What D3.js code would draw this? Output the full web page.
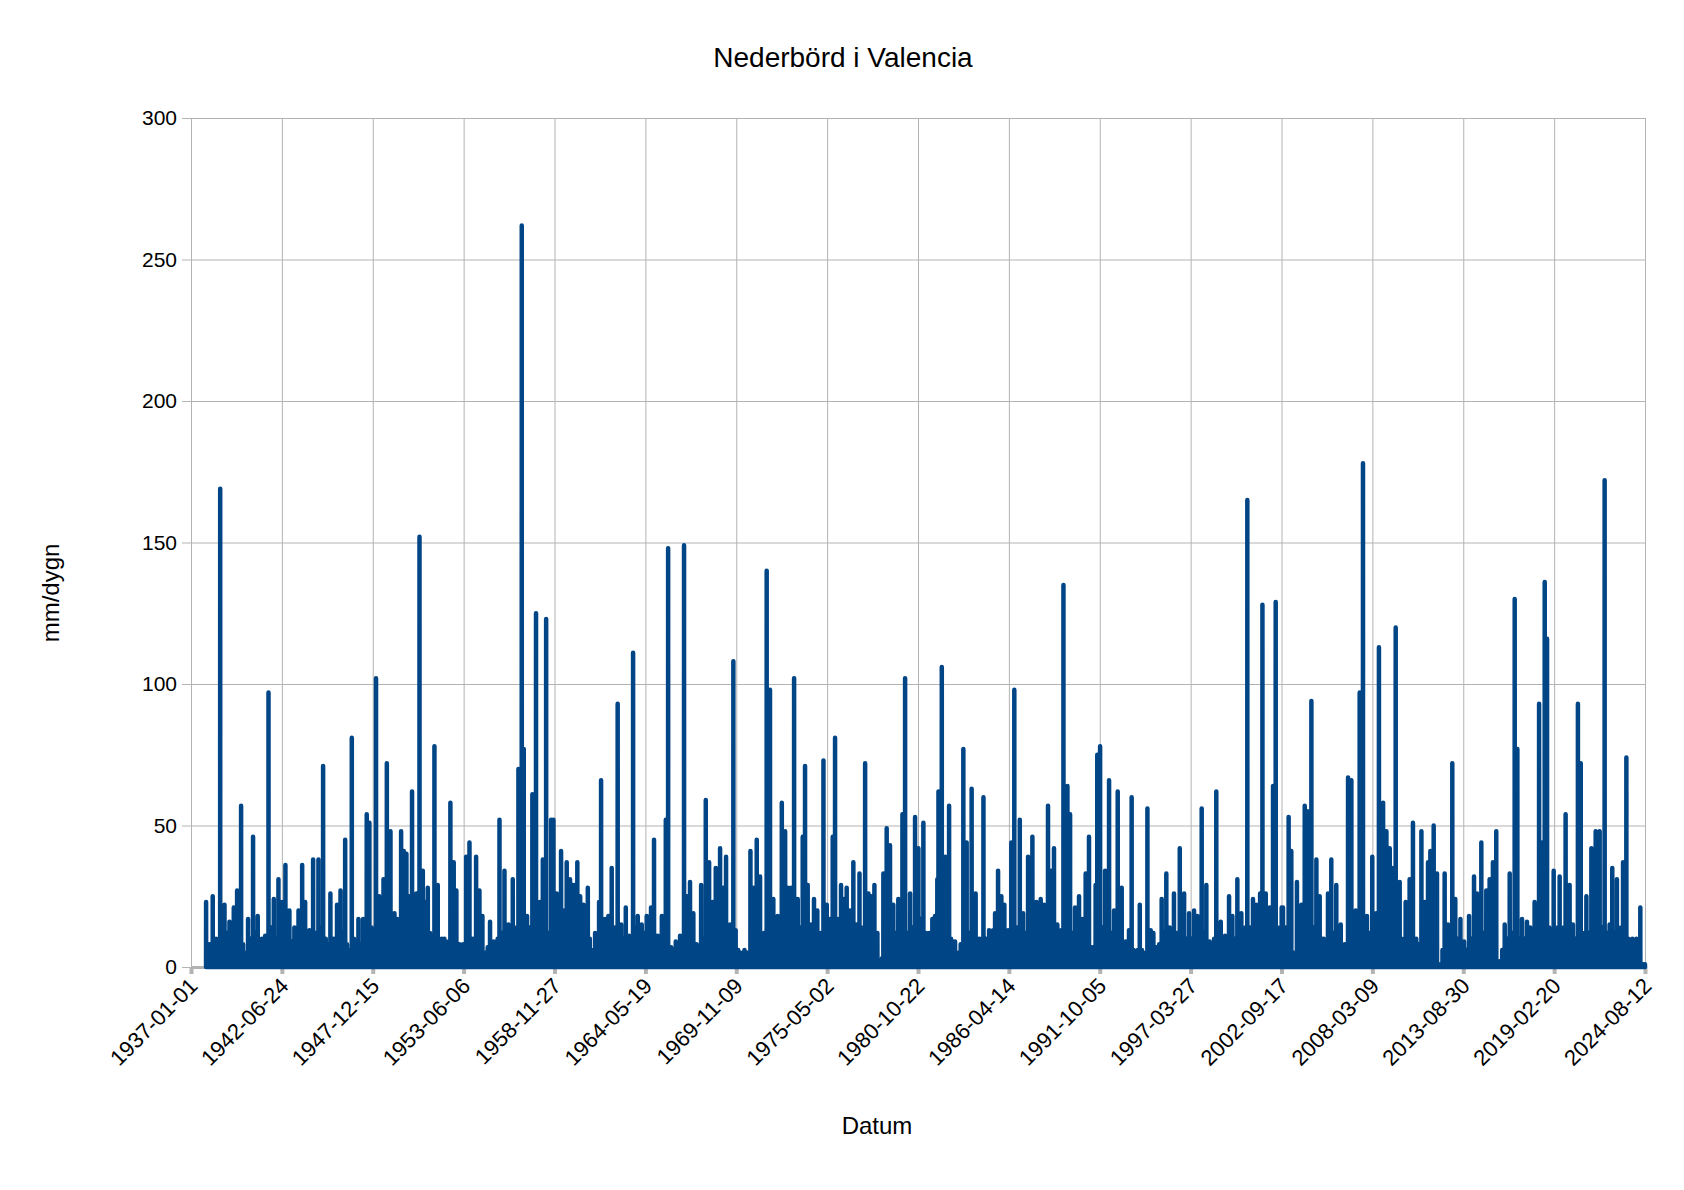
<!DOCTYPE html>
<html>
<head>
<meta charset="utf-8">
<script src="https://cdnjs.cloudflare.com/ajax/libs/d3/7.8.5/d3.min.js"></script>
<style>
  html, body { margin: 0; padding: 0; background: #ffffff; }
  svg { display: block; font-family: "Liberation Sans", Arial, sans-serif; }
</style>
</head>
<body>
<svg id="chart" width="1684" height="1190"></svg>
<script>
// ---- Data: daily precipitation events [decimal year, mm/dygn] ----
const rain1937to1958 = [
  [1937.91,23],[1938.31,25],[1938.51,10],[1938.76,169],[1939.02,22],[1939.18,12],[1939.32,16],[1939.58,21],
  [1939.78,27],[1940.02,57],[1940.26,5],[1940.44,17],[1940.74,46],[1941.02,18],[1941.27,10],[1941.47,11],
  [1941.67,97],[1941.99,24],[1942.27,31],[1942.49,23],[1942.69,36],[1942.93,20],[1943.23,14],[1943.48,20],
  [1943.70,36],[1943.88,23],[1944.14,13],[1944.36,38],[1944.68,38],[1944.96,71],[1945.12,10],[1945.40,26],
  [1945.60,10],[1945.80,22],[1946.01,27],[1946.29,45],[1946.51,6],[1946.69,81],[1947.09,17],[1947.37,17],
  [1947.59,54],[1947.75,51],[1948.15,102],[1948.34,25],[1948.60,31],[1948.80,72],[1949.02,48],[1949.26,19],
  [1949.42,17],[1949.66,48],[1949.82,41],[1949.98,40],[1950.16,25],[1950.32,62],[1950.58,26],[1950.77,152],
  [1950.97,34],[1951.11,23],[1951.27,28],[1951.67,78],[1951.87,29],[1952.11,10],[1952.27,10],[1952.63,58],
  [1952.83,37],[1952.99,27],[1953.18,8],[1953.40,8],[1953.58,39],[1953.78,44],[1953.98,10],[1954.18,39],
  [1954.38,27],[1954.56,18],[1954.74,5],[1955.02,16],[1955.24,9],[1955.59,52],[1955.89,34],[1956.13,15],
  [1956.39,31],[1956.73,70],[1956.93,262],[1957.05,77],[1957.25,18],[1957.57,61],[1957.79,125],[1958.02,23],
  [1958.20,38],[1958.40,123],[1958.70,52],[1958.84,52]
];
const rain1959to1980 = [
  [1959.04,26],[1959.30,41],[1959.48,20],[1959.64,37],[1959.84,31],[1959.98,29],[1960.10,29],[1960.28,37],
  [1960.45,25],[1960.65,22],[1960.91,28],[1961.15,6],[1961.35,12],[1961.59,23],[1961.71,66],[1961.95,17],
  [1962.15,18],[1962.35,35],[1962.51,14],[1962.71,93],[1962.92,15],[1963.20,21],[1963.40,11],[1963.64,111],
  [1963.92,18],[1964.16,15],[1964.46,18],[1964.72,21],[1964.90,45],[1965.12,11],[1965.37,18],[1965.61,52],
  [1965.75,148],[1965.93,7],[1966.21,9],[1966.47,11],[1966.71,149],[1966.87,25],[1967.07,30],[1967.27,19],
  [1967.47,8],[1967.74,29],[1968.02,59],[1968.22,37],[1968.42,23],[1968.62,35],[1968.88,42],[1969.08,28],
  [1969.24,39],[1969.48,15],[1969.68,108],[1969.82,13],[1970.13,5],[1970.35,6],[1970.49,5],[1970.71,41],
  [1970.91,28],[1971.09,45],[1971.29,32],[1971.53,12],[1971.69,140],[1971.89,98],[1972.09,24],[1972.35,18],
  [1972.60,58],[1972.80,48],[1972.96,28],[1973.16,28],[1973.34,102],[1973.56,24],[1973.70,14],[1973.86,46],
  [1974.00,71],[1974.16,29],[1974.36,15],[1974.54,24],[1974.74,20],[1974.93,12],[1975.11,73],[1975.31,22],
  [1975.51,17],[1975.67,46],[1975.81,81],[1976.01,17],[1976.17,29],[1976.35,24],[1976.51,28],[1976.71,20],
  [1976.91,37],[1977.11,15],[1977.28,33],[1977.62,72],[1977.82,26],[1977.98,25],[1978.18,29],[1978.36,12],
  [1978.52,2],[1978.72,33],[1978.92,49],[1979.12,43],[1979.32,22],[1979.62,24],[1979.87,54],[1980.03,102],
  [1980.33,26],[1980.63,53],[1980.83,42]
];
const rain1981to2002 = [
  [1980.97,17],[1981.13,51],[1981.47,12],[1981.67,17],[1981.83,18],[1981.97,31],[1982.04,62],[1982.24,106],
  [1982.44,39],[1982.68,57],[1982.92,9],[1983.04,9],[1983.22,5],[1983.38,8],[1983.54,77],[1983.74,44],
  [1984.04,63],[1984.28,26],[1984.53,10],[1984.75,60],[1984.89,10],[1985.09,13],[1985.33,13],[1985.45,19],
  [1985.63,34],[1985.83,25],[1986.01,22],[1986.23,13],[1986.43,44],[1986.61,98],[1986.94,52],[1987.14,19],
  [1987.44,39],[1987.70,46],[1987.94,23],[1988.20,24],[1988.40,22],[1988.64,57],[1988.80,34],[1989.00,42],
  [1989.20,15],[1989.43,13],[1989.57,135],[1989.81,64],[1989.97,54],[1990.27,21],[1990.51,25],[1990.71,17],
  [1990.91,33],[1991.11,46],[1991.31,7],[1991.51,29],[1991.61,75],[1991.78,78],[1992.08,34],[1992.32,66],
  [1992.62,20],[1992.84,62],[1993.08,28],[1993.32,9],[1993.52,13],[1993.68,60],[1993.92,5],[1994.17,22],
  [1994.43,5],[1994.63,56],[1994.83,13],[1994.99,12],[1995.19,7],[1995.49,24],[1995.77,33],[1995.97,14],
  [1996.23,26],[1996.58,42],[1996.84,26],[1997.14,19],[1997.44,20],[1997.64,18],[1997.90,56],[1998.18,29],
  [1998.38,9],[1998.78,62],[1999.05,16],[1999.31,11],[1999.55,25],[1999.75,18],[2000.05,31],[2000.29,19],
  [2000.65,165],[2000.99,24],[2001.19,22],[2001.42,26],[2001.56,128],[2001.76,26],[2002.00,21],[2002.20,64],
  [2002.36,129],[2002.72,21]
];
const rain2003to2024 = [
  [2002.80,21],[2003.14,53],[2003.30,41],[2003.44,5],[2003.64,30],[2003.91,22],[2004.11,57],[2004.27,55],
  [2004.51,94],[2004.81,38],[2005.01,25],[2005.25,10],[2005.51,26],[2005.71,38],[2006.01,29],[2006.28,15],
  [2006.52,8],[2006.72,67],[2006.92,66],[2007.18,20],[2007.42,97],[2007.62,178],[2007.86,18],[2008.18,39],
  [2008.42,19],[2008.58,113],[2008.83,58],[2009.03,48],[2009.23,42],[2009.37,35],[2009.59,120],[2009.83,30],
  [2010.19,23],[2010.43,31],[2010.63,51],[2010.83,10],[2011.14,48],[2011.34,23],[2011.54,37],[2011.68,41],
  [2011.88,50],[2012.08,33],[2012.28,1],[2012.54,33],[2012.74,15],[2013.00,72],[2013.18,24],[2013.49,17],
  [2013.71,9],[2014.01,18],[2014.31,32],[2014.49,26],[2014.75,44],[2015.05,27],[2015.25,31],[2015.45,37],
  [2015.65,48],[2015.86,2],[2016.16,15],[2016.46,33],[2016.76,130],[2016.92,77],[2017.20,17],[2017.50,16],
  [2017.70,14],[2017.96,23],[2018.23,93],[2018.41,44],[2018.57,136],[2018.71,116],[2019.11,34],[2019.47,32],
  [2019.83,54],[2020.07,29],[2020.27,15],[2020.57,93],[2020.74,72],[2021.08,25],[2021.38,42],[2021.64,48],
  [2021.88,48],[2022.18,172],[2022.48,15],[2022.64,35],[2022.92,31],[2023.29,37],[2023.49,74],[2023.85,10],
  [2024.09,10],[2024.33,21],[2024.49,1],[2024.61,1]
];
// light rain days seen as the dense low band under the spikes
const lightRain1937to1958 = [
  [1938.11,8],[1938.89,12],[1939.45,9],[1940.14,8],[1940.59,10],[1940.88,12],[1941.15,7],[1941.83,14],
  [1942.13,10],[1942.38,12],[1942.81,10],[1943.08,9],[1943.35,8],[1943.59,10],[1944.01,8],[1944.25,9],
  [1944.52,12],[1944.82,14],[1945.26,8],[1946.15,12],[1946.40,8],[1946.82,10],[1946.95,9],[1947.23,8],
  [1947.48,9],[1947.88,14],[1948.01,12],[1948.47,12],[1949.14,10],[1949.54,12],[1950.45,14],[1951.40,12],
  [1951.53,10],[1951.99,8],[1952.39,8],[1952.51,9],[1953.29,6],[1954.88,7],[1955.13,6],[1955.36,8],
  [1955.48,10],[1955.74,12],[1956.01,8],[1956.26,10],[1956.51,12],[1956.62,14],[1957.41,14],[1957.68,16],
  [1957.90,14],[1958.55,12]
];
const lightRain1959to1980 = [
  [1959.17,12],[1960.78,14],[1961.03,10],[1961.47,8],[1961.83,12],[1963.06,10],[1963.52,9],[1963.78,14],
  [1964.04,12],[1964.31,12],[1964.59,12],[1965.01,10],[1965.25,9],[1965.49,10],[1966.07,6],[1966.34,8],
  [1966.59,9],[1967.60,7],[1967.88,10],[1968.75,14],[1969.36,12],[1969.97,6],[1970.60,5],[1971.41,10],
  [1972.22,12],[1972.47,10],[1973.45,12],[1977.40,12],[1977.51,14],[1978.62,3],[1979.47,12],[1979.74,14],
  [1980.18,12],[1980.48,14]
];
const lightRain1981to2002 = [
  [1981.30,12],[1982.56,14],[1982.80,10],[1983.89,12],[1984.16,14],[1984.40,10],[1984.64,9],[1985.21,8],
  [1986.12,10],[1986.77,14],[1987.29,12],[1987.57,14],[1987.82,13],[1988.07,12],[1988.52,12],[1989.31,8],
  [1990.12,12],[1990.39,12],[1991.93,14],[1992.20,14],[1992.47,12],[1992.73,10],[1992.96,12],[1993.20,8],
  [1993.80,6],[1994.05,6],[1994.30,6],[1995.34,8],[1995.63,12],[1996.10,9],[1996.40,12],[1996.71,12],
  [1996.99,10],[1997.29,10],[1997.77,9],[1998.04,12],[1998.51,8],[1998.65,10],[1998.91,10],[1999.18,6],
  [1999.43,8],[1999.90,10],[2000.17,12],[2000.41,10],[2000.53,14],[2000.82,14],[2001.30,12],[2001.88,12],
  [2002.48,14],[2002.60,12]
];
const lightRain2003to2024 = [
  [2002.97,14],[2003.77,10],[2004.66,14],[2005.13,10],[2005.38,8],[2005.86,12],[2006.14,9],[2006.40,6],
  [2007.05,10],[2007.30,12],[2007.74,14],[2008.02,12],[2008.30,12],[2009.71,14],[2009.95,10],[2010.07,8],
  [2010.31,10],[2010.98,8],[2012.41,6],[2012.87,10],[2013.33,10],[2013.60,8],[2013.86,6],[2014.16,10],
  [2014.62,12],[2014.90,12],[2016.01,6],[2016.31,10],[2016.61,12],[2017.06,10],[2017.35,10],[2017.83,10],
  [2018.10,12],[2018.84,14],[2018.97,12],[2019.23,12],[2019.35,14],[2019.59,12],[2019.71,14],[2020.42,10],
  [2020.86,12],[2020.97,10],[2021.23,12],[2021.51,14],[2022.03,14],[2022.33,12],[2022.78,12],[2023.05,12],
  [2023.17,14],[2023.61,10],[2023.73,8],[2023.97,6],[2024.21,8]
];
const tickLabels = ["1937-01-01","1942-06-24","1947-12-15","1953-06-06","1958-11-27","1964-05-19",
  "1969-11-09","1975-05-02","1980-10-22","1986-04-14","1991-10-05","1997-03-27","2002-09-17",
  "2008-03-09","2013-08-30","2019-02-20","2024-08-12"];
const yTicks = [0, 50, 100, 150, 200, 250, 300];
const chartTitle = "Nederbörd i Valencia";
const xTitle = "Datum";
const yTitle = "mm/dygn";

// ---- Layout ----
const W = 1684, H = 1190;
const plotLeft = 191, plotRight = 1645, plotTop = 118, plotBottom = 967;
const gridColor = "#b3b3b3";
const lineColor = "#004586";
const FONT = '"Liberation Sans", Arial, sans-serif';

const svg = d3.select("#chart");
svg.append("rect").attr("width", W).attr("height", H).attr("fill", "#ffffff");

const parse = d3.utcParse("%Y-%m-%d");
const tickDates = tickLabels.map(parse);

const x = d3.scaleUtc().domain([tickDates[0], tickDates[tickDates.length - 1]]).range([plotLeft, plotRight]);
const y = d3.scaleLinear().domain([0, 300]).range([plotBottom, plotTop]);

function yearToDate(yr) {
  const y0 = Math.floor(yr);
  const start = Date.UTC(y0, 0, 1), end = Date.UTC(y0 + 1, 0, 1);
  return new Date(start + (yr - y0) * (end - start));
}

// gridlines
svg.append("g")
  .attr("transform", `translate(${plotLeft},0)`)
  .call(d3.axisLeft(y).tickValues(yTicks).tickSize(-(plotRight - plotLeft)).tickFormat(""))
  .call(g => g.select(".domain").remove())
  .call(g => g.selectAll("line").attr("stroke", gridColor).attr("stroke-width", 1));
svg.append("g")
  .attr("transform", `translate(0,${plotBottom})`)
  .call(d3.axisBottom(x).tickValues(tickDates).tickSize(-(plotBottom - plotTop)).tickFormat(""))
  .call(g => g.select(".domain").remove())
  .call(g => g.selectAll("line").attr("stroke", gridColor).attr("stroke-width", 1));

// y axis
svg.append("g")
  .attr("transform", `translate(${plotLeft},0)`)
  .call(d3.axisLeft(y).tickValues(yTicks).tickSize(9).tickSizeOuter(0).tickPadding(5))
  .call(g => g.select(".domain").attr("stroke", gridColor))
  .call(g => g.selectAll("line").attr("stroke", gridColor))
  .call(g => g.selectAll("text").attr("fill", "#000").style("font-size", "21px").style("font-family", FONT));

// x axis
svg.append("g")
  .attr("transform", `translate(0,${plotBottom})`)
  .call(d3.axisBottom(x).tickValues(tickDates).tickSize(7).tickSizeOuter(0)
        .tickFormat((d, i) => tickLabels[i]))
  .call(g => g.select(".domain").attr("stroke", gridColor).attr("stroke-width", 3))
  .call(g => g.selectAll(".tick line").attr("stroke", gridColor).attr("stroke-width", 4))
  .call(g => g.selectAll("text")
    .attr("fill", "#000")
    .style("font-size", "22px").style("font-family", FONT)
    .attr("text-anchor", "end")
    .attr("x", 0).attr("y", 0).attr("dy", "0.35em")
    .attr("transform", "translate(2,15) rotate(-45)"));

// data line
const events = [].concat(rain1937to1958, rain1959to1980, rain1981to2002, rain2003to2024,
    lightRain1937to1958, lightRain1959to1980, lightRain1981to2002, lightRain2003to2024)
  .map(([yr, v]) => [yearToDate(yr), v])
  .sort((a, b) => a[0] - b[0]);
const DAY = 864e5;
const pts = [];
events.forEach(([t, v]) => {
  pts.push([new Date(+t - DAY), 0]);
  pts.push([t, v]);
  pts.push([new Date(+t + DAY), 0]);
});
const line = d3.line().x(d => x(d[0])).y(d => y(d[1]));
svg.append("path")
  .datum(pts)
  .attr("d", line)
  .attr("fill", "none")
  .attr("stroke", lineColor)
  .attr("stroke-width", 4.5)
  .attr("stroke-linejoin", "round")
  .attr("stroke-linecap", "round");

// titles
svg.append("text").attr("x", 843).attr("y", 67).attr("text-anchor", "middle")
  .style("font-size", "28px").style("font-family", FONT).text(chartTitle);
svg.append("text").attr("x", 877).attr("y", 1134).attr("text-anchor", "middle")
  .style("font-size", "24px").style("font-family", FONT).text(xTitle);
svg.append("text").attr("transform", "translate(59,593) rotate(-90)").attr("text-anchor", "middle")
  .style("font-size", "24px").style("font-family", FONT).text(yTitle);
</script>
</body>
</html>
